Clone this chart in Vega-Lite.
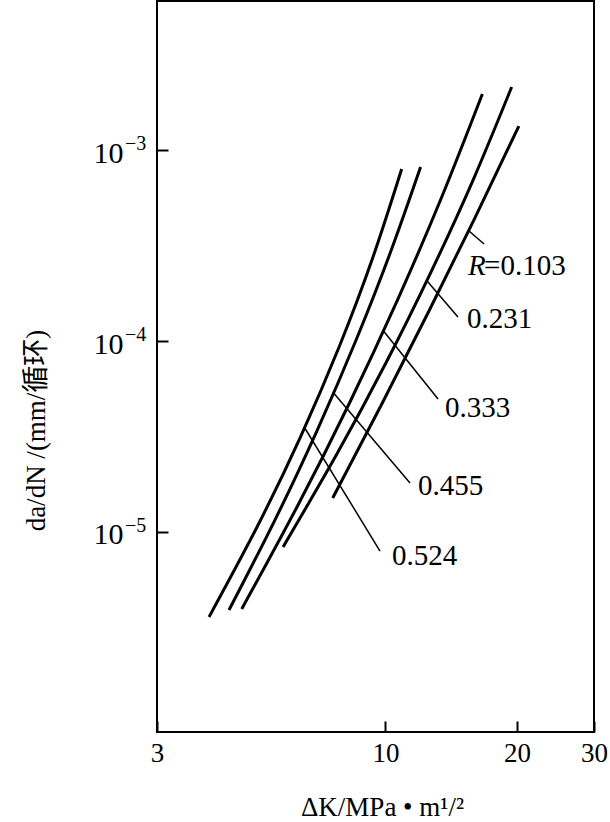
{
  "$schema": "https://vega.github.io/schema/vega-lite/v6.json",
  "width": 437,
  "height": 731,
  "autosize": {"type": "none"},
  "padding": {"left": 157, "top": 1, "right": 16, "bottom": 90},
  "background": "white",
  "config": {
    "view": {"stroke": "black", "strokeWidth": 2},
    "font": "Liberation Serif"
  },
  "datasets": {
    "curves": [
      {"R": "0.524", "dk": 3.946, "rate": 3.588e-6},
      {"R": "0.524", "dk": 5.082, "rate": 1.062e-5},
      {"R": "0.524", "dk": 6.387, "rate": 3.143e-5},
      {"R": "0.524", "dk": 7.831, "rate": 9.3e-5},
      {"R": "0.524", "dk": 9.363, "rate": 2.752e-4},
      {"R": "0.524", "dk": 10.89, "rate": 7.951e-4},
      {"R": "0.455", "dk": 4.384, "rate": 3.904e-6},
      {"R": "0.455", "dk": 5.584, "rate": 1.155e-5},
      {"R": "0.455", "dk": 6.981, "rate": 3.419e-5},
      {"R": "0.455", "dk": 8.565, "rate": 1.012e-4},
      {"R": "0.455", "dk": 10.31, "rate": 2.995e-4},
      {"R": "0.455", "dk": 12.03, "rate": 8.145e-4},
      {"R": "0.333", "dk": 4.688, "rate": 3.951e-6},
      {"R": "0.333", "dk": 6.29, "rate": 1.368e-5},
      {"R": "0.333", "dk": 8.272, "rate": 4.735e-5},
      {"R": "0.333", "dk": 10.65, "rate": 1.639e-4},
      {"R": "0.333", "dk": 13.45, "rate": 5.673e-4},
      {"R": "0.333", "dk": 16.66, "rate": 1.964e-3},
      {"R": "0.231", "dk": 5.828, "rate": 8.344e-6},
      {"R": "0.231", "dk": 7.717, "rate": 2.529e-5},
      {"R": "0.231", "dk": 10.02, "rate": 7.667e-5},
      {"R": "0.231", "dk": 12.74, "rate": 2.325e-4},
      {"R": "0.231", "dk": 15.9, "rate": 7.048e-4},
      {"R": "0.231", "dk": 19.44, "rate": 2.137e-3},
      {"R": "0.103", "dk": 7.571, "rate": 1.506e-5},
      {"R": "0.103", "dk": 9.781, "rate": 4.622e-5},
      {"R": "0.103", "dk": 12.54, "rate": 1.418e-4},
      {"R": "0.103", "dk": 15.97, "rate": 4.351e-4},
      {"R": "0.103", "dk": 20.19, "rate": 1.335e-3}
    ],
    "leaders": [
      {"R": "0.103", "x1": 15.53, "y1": 3.765e-4, "x2": 16.81, "y2": 3.219e-4},
      {"R": "0.231", "x1": 12.45, "y1": 2.061e-4, "x2": 14.65, "y2": 1.335e-4},
      {"R": "0.333", "x1": 9.895, "y1": 1.128e-4, "x2": 13.19, "y2": 4.968e-5},
      {"R": "0.455", "x1": 7.608, "y1": 5.34e-5, "x2": 11.38, "y2": 1.805e-5},
      {"R": "0.524", "x1": 6.53, "y1": 3.515e-5, "x2": 9.715, "y2": 7.95e-6}
    ],
    "labels": [
      {"lx": 16.81, "ly": 2.47e-4, "text": "=0.103"},
      {"lx": 15.37, "ly": 1.303e-4, "text": "0.231"},
      {"lx": 13.68, "ly": 4.457e-5, "text": "0.333"},
      {"lx": 11.87, "ly": 1.74e-5, "text": "0.455"},
      {"lx": 10.35, "ly": 7.486e-6, "text": "0.524"}
    ],
    "rlabel": [
      {"lx": 15.45, "ly": 2.47e-4, "text": "R"}
    ],
    "exps": [
      {"v": 1e-3, "t": "−3"},
      {"v": 1e-4, "t": "−4"},
      {"v": 1e-5, "t": "−5"}
    ]
  },
  "layer": [
    {
      "data": {"name": "curves"},
      "mark": {"type": "line", "color": "black", "strokeWidth": 3, "interpolate": "natural", "clip": true},
      "encoding": {
        "x": {
          "field": "dk", "type": "quantitative", "title": "ΔK/MPa • m¹/²",
          "scale": {"type": "log", "domain": [3, 30], "nice": false},
          "axis": {
            "values": [3, 10, 20, 30], "format": "d", "grid": false, "domain": false,
            "tickSize": -11, "tickWidth": 2, "tickColor": "black",
            "labelFont": "Liberation Serif", "labelFontSize": 27, "labelColor": "black",
            "labelPadding": 19, "labelFlush": false, "labelOverlap": false,
            "titleFont": "Liberation Serif", "titleFontSize": 27, "titleFontWeight": "normal", "titleColor": "black",
            "titleX": 225, "titleY": 83, "titleBaseline": "alphabetic", "titleAlign": "center"
          }
        },
        "y": {
          "field": "rate", "type": "quantitative", "title": "da/dN /(mm/循环)",
          "scale": {"type": "log", "domain": [8.97e-7, 6.03e-3], "nice": false},
          "axis": {
            "values": [1e-5, 1e-4, 1e-3], "labelExpr": "'10'", "grid": false, "domain": false,
            "tickSize": -11, "tickWidth": 2, "tickColor": "black",
            "labelFont": "Liberation Serif", "labelFontSize": 30, "labelColor": "black",
            "labelPadding": 45, "labelOffset": 3, "labelOverlap": false, "labelFlush": false,
            "titleFont": "Liberation Serif, Noto Sans CJK SC", "titleFontSize": 27, "titleFontWeight": "normal", "titleColor": "black",
            "titleX": -121, "titleY": 429, "titleAngle": -90, "titleBaseline": "middle", "titleAlign": "center"
          }
        },
        "detail": {"field": "R"},
        "order": {"field": "dk"}
      }
    },
    {
      "data": {"name": "leaders"},
      "mark": {"type": "rule", "color": "black", "strokeWidth": 1.5},
      "encoding": {
        "x": {"field": "x1", "type": "quantitative", "title": "ΔK/MPa • m¹/²"},
        "y": {"field": "y1", "type": "quantitative", "title": "da/dN /(mm/循环)"},
        "x2": {"field": "x2"},
        "y2": {"field": "y2"}
      }
    },
    {
      "data": {"name": "labels"},
      "mark": {"type": "text", "align": "left", "baseline": "middle", "fontSize": 29, "font": "Liberation Serif", "color": "black"},
      "encoding": {
        "x": {"field": "lx", "type": "quantitative", "title": "ΔK/MPa • m¹/²"},
        "y": {"field": "ly", "type": "quantitative", "title": "da/dN /(mm/循环)"},
        "text": {"field": "text"}
      }
    },
    {
      "data": {"name": "rlabel"},
      "mark": {"type": "text", "align": "left", "baseline": "middle", "fontSize": 29, "font": "Liberation Serif", "fontStyle": "italic", "color": "black"},
      "encoding": {
        "x": {"field": "lx", "type": "quantitative", "title": "ΔK/MPa • m¹/²"},
        "y": {"field": "ly", "type": "quantitative", "title": "da/dN /(mm/循环)"},
        "text": {"field": "text"}
      }
    },
    {
      "data": {"name": "exps"},
      "mark": {"type": "text", "align": "left", "baseline": "middle", "fontSize": 20, "font": "Liberation Serif", "color": "black", "dx": -32, "dy": -6},
      "encoding": {
        "x": {"datum": 3, "type": "quantitative"},
        "y": {"field": "v", "type": "quantitative", "title": "da/dN /(mm/循环)"},
        "text": {"field": "t"}
      }
    }
  ]
}
